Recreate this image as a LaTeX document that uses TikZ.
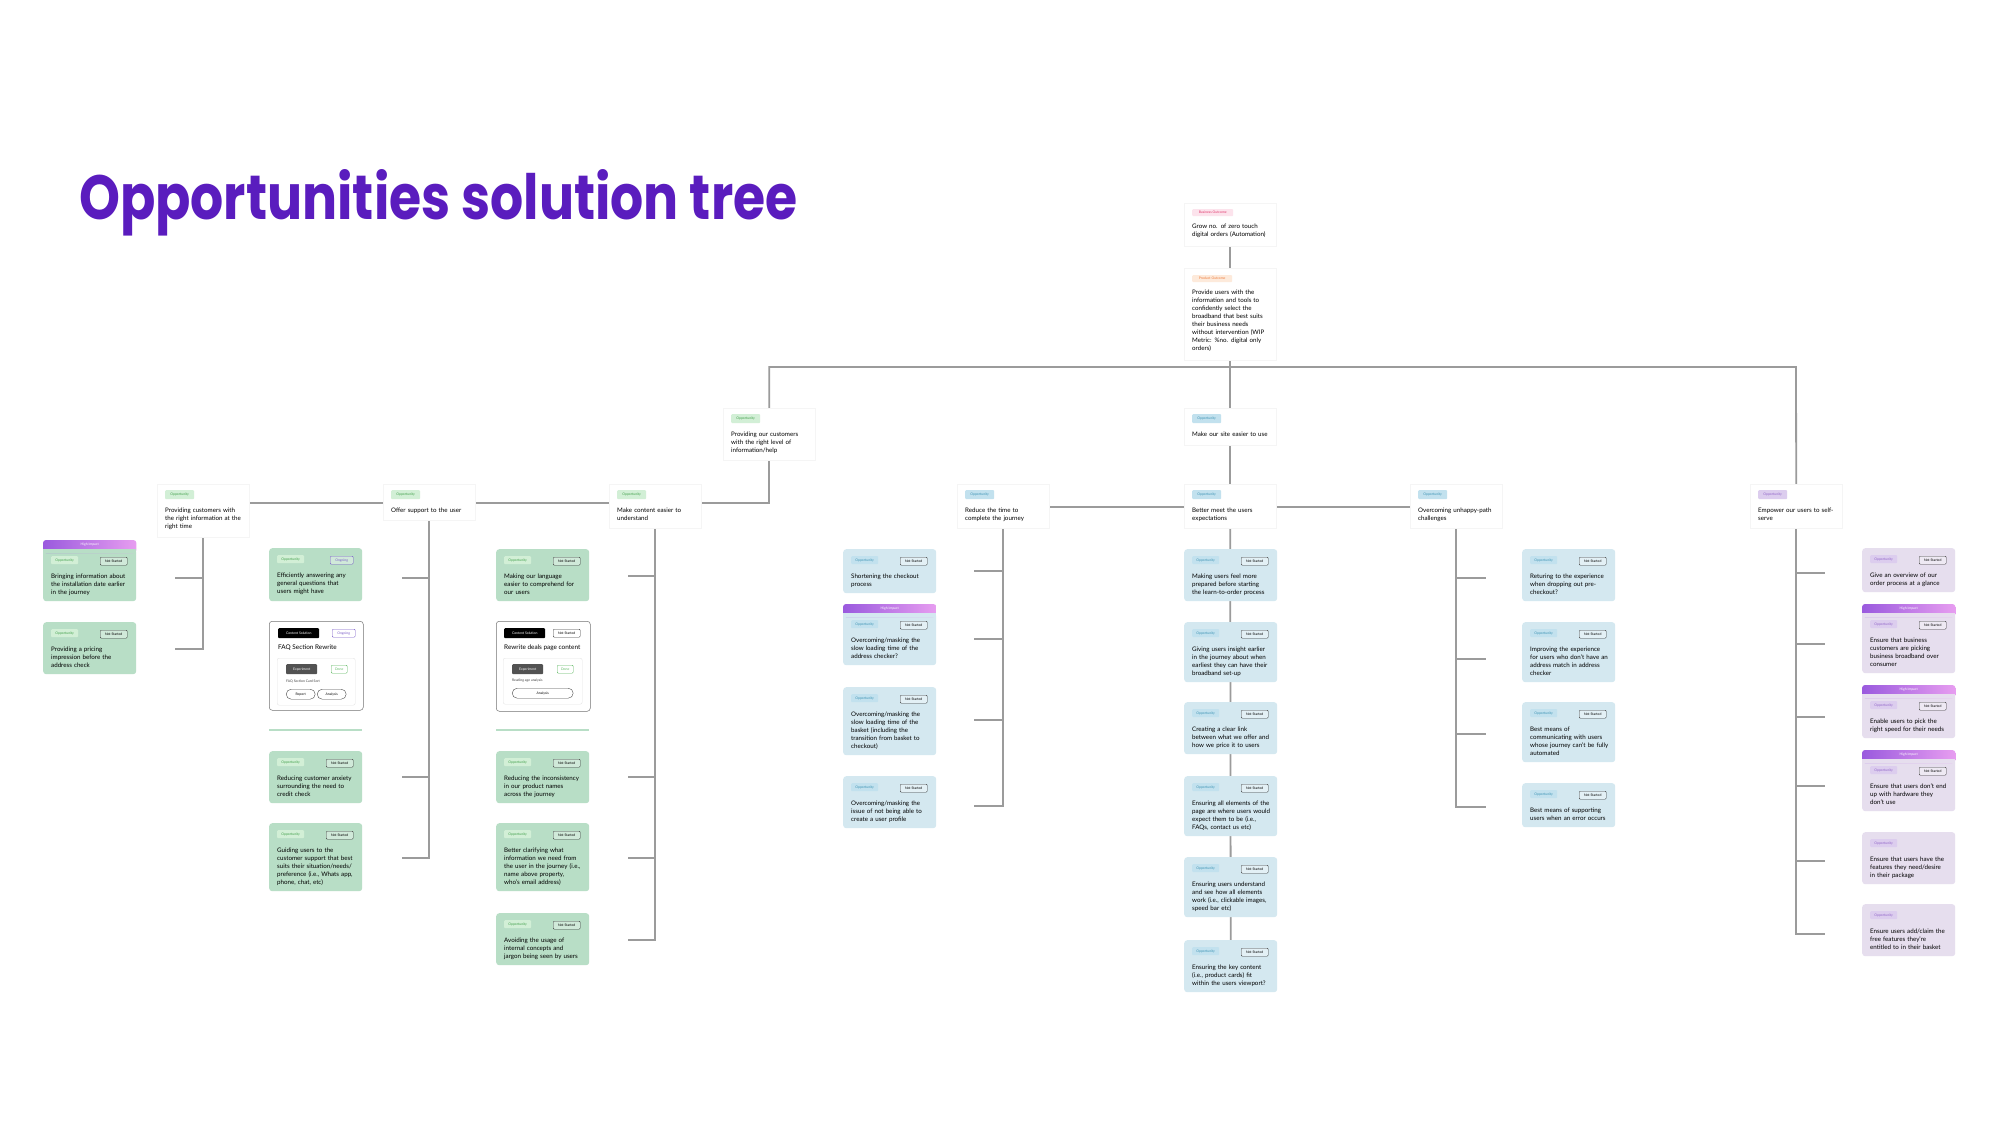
\documentclass[tikz,border=0pt]{standalone}
\usepackage{graphicx}
\usepackage{fontspec}
\setmainfont{Lato}
\newfontfamily\titlefont{Poppins}
\usetikzlibrary{calc}
\pgfdeclarelayer{bg}
\pgfsetlayers{bg,main}

\definecolor{titlec}{HTML}{5A1CBE}
\definecolor{lineg}{HTML}{9B9B9B}
\definecolor{gcard}{HTML}{B8DEC6}
\definecolor{gtag}{HTML}{D2EFD6}
\definecolor{gtagtext}{HTML}{3E9E48}
\definecolor{bcard}{HTML}{D4E8F0}
\definecolor{btag}{HTML}{C2E1EE}
\definecolor{btagtext}{HTML}{3A92B3}
\definecolor{pcard}{HTML}{E6DEEE}
\definecolor{ptag}{HTML}{DCCDEE}
\definecolor{ptagtext}{HTML}{9063C8}
\definecolor{ongc}{HTML}{7A5CC8}
\definecolor{donec}{HTML}{5BB85F}
\definecolor{hiL}{HTML}{9A5ADE}
\definecolor{hiR}{HTML}{E79DF0}
\definecolor{bustag}{HTML}{FCE3EC}
\definecolor{bustext}{HTML}{E0356A}
\definecolor{prodtag}{HTML}{FDEADB}
\definecolor{prodtext}{HTML}{EE7A3A}

\newcommand\bodyfont{\fontsize{6.2}{8}\selectfont}
\newcommand\tinyfont{\fontsize{3.4}{4}\selectfont}
\newcommand\solfont{\fontsize{6.4}{8}\selectfont}
\def\txtnst{Not Started}
\def\txtongo{Ongoing}

\tikzset{
 conn/.style={draw=lineg, line width=1.8pt},
 sepline/.style={draw=gcard, line width=1.6pt},
 cardbox/.style={anchor=north west, minimum width=93pt, rounded corners=3pt, inner sep=0pt, draw=none},
 hdrbox/.style={anchor=north west, minimum width=92pt, inner sep=0pt, fill=white, draw=black!4, line width=0.4pt},
 tagbox/.style={anchor=north west, inner sep=0pt, minimum height=8pt, rounded corners=1pt, font=\tinyfont},
 opptag/.style={fill=#1tag, text=#1tagtext, minimum width=27pt},
 nst/.style={tagbox, anchor=north east, minimum width=27pt, draw=black!75, line width=0.4pt, fill=white, fill opacity=0.35, text opacity=1},
 ongo/.style={tagbox, anchor=north east, minimum width=23pt, draw=ongc, text=ongc, line width=0.4pt, fill=white, fill opacity=0.35, text opacity=1},
 body/.style={anchor=north west, inner sep=0pt, align=left, font=\bodyfont, text width=92pt},
 solbox/.style={anchor=north west, minimum width=94pt, rounded corners=3pt, draw=black!55, line width=0.5pt, fill=white, inner sep=0pt},
 innerbox/.style={anchor=north west, minimum width=78pt, minimum height=47pt, draw=black!10, rounded corners=2pt, inner sep=0pt, line width=0.4pt},
 pill/.style={anchor=north west, minimum height=10pt, rounded corners=5pt, draw=black!70, line width=0.4pt, inner sep=0pt, font=\tinyfont},
 soltag/.style={tagbox, fill=black, text=white, minimum width=41pt, minimum height=10pt},
 exptag/.style={tagbox, fill=black!68, text=white, minimum width=31pt, minimum height=10pt},
 donetag/.style={tagbox, draw=donec, text=donec, minimum width=16pt, line width=0.4pt},
}

% name, x, y, height, scheme, status, text
\newcommand\oppcard[7]{%
 \node[cardbox, fill=#5card, minimum height=#4pt] (#1) at (#2,#3) {};
 \node[tagbox, opptag=#5] (#1-o) at ([xshift=8pt,yshift=-7pt]#1.north west) {Opportunity};
 \if\relax\detokenize{#6}\relax\else\node[#6] (#1-s) at ([xshift=-9pt,yshift=-8pt]#1.north east) {\csname txt#6\endcsname};\fi
 \node[body] (#1-x) at ([xshift=8pt,yshift=-23.4pt]#1.north west) {\strut #7};
}
% high impact bar on card #1 with scheme #2
\newcommand\hibar[2]{%
 \shade[left color=hiL, right color=hiR, rounded corners=3pt] ([yshift=9pt]#1.north west) rectangle ([yshift=-4pt]#1.north east);
 \fill[#2card] (#1.north west) rectangle ([yshift=-4pt]#1.north east);
 \node[font=\tinyfont, text=white, inner sep=0pt] (#1-hi) at ([yshift=4.5pt]#1.north) {High Impact};
}
% header card: name, x, y, height, scheme, text
\newcommand\hcard[6]{%
 \node[hdrbox, minimum height=#4pt] (#1) at (#2,#3) {};
 \node[tagbox, opptag=#5, minimum width=29pt, minimum height=9pt] (#1-o) at ([xshift=8pt,yshift=-6pt]#1.north west) {Opportunity};
 \node[body] (#1-x) at ([xshift=8pt,yshift=-22.4pt]#1.north west) {\strut #6};
}

\begin{document}
\begin{tikzpicture}[x=1pt,y=-1pt]
\useasboundingbox (0,0) rectangle (2000,1125);
\begin{pgfonlayer}{bg}
\fill[white] (0,0) rectangle (2000,1125);
\end{pgfonlayer}

% title
\node[anchor=base west, inner sep=0pt, text=titlec] (title) at (79,219)
 {\resizebox{718pt}{50pt}{\titlefont\bfseries Opportunities solution tree}};

% outcomes
\node[hdrbox, minimum height=43pt] (bus) at (1184,203) {};
\node[tagbox, fill=bustag, text=bustext, minimum width=41pt, minimum height=7pt] (bus-t) at (1192,209) {Business Outcome};
\node[body] (bus-x) at (1192,222.4) {\strut Grow no. of zero touch\\digital orders (Automation)};

\node[hdrbox, minimum height=92pt] (prod) at (1184,268) {};
\node[tagbox, fill=prodtag, text=prodtext, minimum width=40pt, minimum height=7pt] (prod-t) at (1192,275) {Product Outcome};
\node[body] (prod-x) at (1192,288.4) {\strut Provide users with the\\information and tools to\\confidently select the\\broadband that best suits\\their business needs\\without intervention (WIP\\Metric: \%no. digital only\\orders)};

% level-1 opportunities
\hcard{Hlevel}{723}{408}{52}{g}{Providing our customers\\with the right level of\\information/help}
\hcard{Hsite}{1184}{408}{37}{b}{Make our site easier to use}
\hcard{Hrt}{157}{484}{53}{g}{Providing customers with\\the right information at the\\right time}
\hcard{Hoff}{383}{484}{36}{g}{Offer support to the user}
\hcard{Hcon}{609}{484}{44}{g}{Make content easier to\\understand}
\hcard{Hred}{957}{484}{44}{b}{Reduce the time to\\complete the journey}
\hcard{Hmeet}{1184}{484}{44}{b}{Better meet the users\\expectations}
\hcard{Hunh}{1410}{484}{44}{b}{Overcoming unhappy-path\\challenges}
\hcard{Hemp}{1750}{484}{44}{p}{Empower our users to self-\\serve}

% column: right information at the right time
\oppcard{L1}{43}{549}{52}{g}{nst}{Bringing information about\\the installation date earlier\\in the journey}
\hibar{L1}{g}
\oppcard{L2}{43}{622}{52}{g}{nst}{Providing a pricing\\impression before the\\address check}

% column: offer support
\oppcard{O1}{269}{548}{53}{g}{ongo}{Efficiently answering any\\general questions that\\users might have}
\node[solbox, minimum height=89pt] (Osol) at (269,621) {};
\node[soltag] (Osol-c) at (278,628) {Content Solution};
\node[ongo, anchor=north west] (Osol-s) at (332,629) {Ongoing};
\node[anchor=west, inner sep=0pt, font=\solfont] (Osol-t) at (278,648) {FAQ Section Rewrite};
\node[innerbox] (Osol-i) at (277,658) {};
\node[exptag] (Osol-e) at (286,664) {Experiment};
\node[donetag] (Osol-d) at (331,665) {Done};
\node[anchor=west, inner sep=0pt, font=\tinyfont, text=black!75] (Osol-n) at (286,681) {FAQ Section Card Sort};
\node[pill, minimum width=29pt] (Osol-p1) at (286,689) {Report};
\node[pill, minimum width=29pt] (Osol-p2) at (317,689) {Analysis};
\coordinate (sepOa) at (269,730);
\coordinate (sepOb) at (362,730);
\oppcard{O2}{269}{751}{52}{g}{nst}{Reducing customer anxiety\\surrounding the need to\\credit check}
\oppcard{O3}{269}{823}{68}{g}{nst}{Guiding users to the\\customer support that best\\suits their situation/needs/\\preference (i.e., Whats app,\\phone, chat, etc)}

% column: make content easier
\oppcard{C1}{496}{549}{52}{g}{nst}{Making our language\\easier to comprehend for\\our users}
\node[solbox, minimum height=90pt] (Csol) at (496,621) {};
\node[soltag] (Csol-c) at (504,628) {Content Solution};
\node[nst, anchor=north west] (Csol-s) at (553,629) {Not Started};
\node[anchor=west, inner sep=0pt, font=\solfont] (Csol-t) at (504,648) {Rewrite deals page content};
\node[innerbox, minimum width=79pt, minimum height=46pt] (Csol-i) at (503,658) {};
\node[exptag] (Csol-e) at (512,664) {Experiment};
\node[donetag] (Csol-d) at (557,665) {Done};
\node[anchor=west, inner sep=0pt, font=\tinyfont, text=black!75] (Csol-n) at (512,681) {Reading age analysis};
\node[pill, minimum width=61pt] (Csol-p1) at (512,688) {Analysis};
\coordinate (sepCa) at (496,730);
\coordinate (sepCb) at (589,730);
\oppcard{C2}{496}{751}{52}{g}{nst}{Reducing the inconsistency\\in our product names\\across the journey}
\oppcard{C3}{496}{823}{68}{g}{nst}{Better clarifying what\\information we need from\\the user in the journey (i.e.,\\name above property,\\who's email address)}
\oppcard{C4}{496}{913}{52}{g}{nst}{Avoiding the usage of\\internal concepts and\\jargon being seen by users}

% column: reduce the time
\oppcard{R1}{843}{549}{44}{b}{nst}{Shortening the checkout\\process}
\oppcard{R2}{843}{613}{52}{b}{nst}{Overcoming/masking the\\slow loading time of the\\address checker?}
\hibar{R2}{b}
\oppcard{R3}{843}{687}{68}{b}{nst}{Overcoming/masking the\\slow loading time of the\\basket (including the\\transition from basket to\\checkout)}
\oppcard{R4}{843}{776}{52}{b}{nst}{Overcoming/masking the\\issue of not being able to\\create a user profile}

% column: better meet expectations
\oppcard{M1}{1184}{549}{52}{b}{nst}{Making users feel more\\prepared before starting\\the learn-to-order process}
\oppcard{M2}{1184}{622}{60}{b}{nst}{Giving users insight earlier\\in the journey about when\\earliest they can have their\\broadband set-up}
\oppcard{M3}{1184}{702}{52}{b}{nst}{Creating a clear link\\between what we offer and\\how we price it to users}
\oppcard{M4}{1184}{776}{60}{b}{nst}{Ensuring all elements of the\\page are where users would\\expect them to be (i.e.,\\FAQs, contact us etc)}
\oppcard{M5}{1184}{857}{60}{b}{nst}{Ensuring users understand\\and see how all elements\\work (i.e., clickable images,\\speed bar etc)}
\oppcard{M6}{1184}{940}{52}{b}{nst}{Ensuring the key content\\(i.e., product cards) fit\\within the users viewport?}

% column: unhappy path
\oppcard{U1}{1522}{549}{52}{b}{nst}{Returing to the experience\\when dropping out pre-\\checkout?}
\oppcard{U2}{1522}{622}{60}{b}{nst}{Improving the experience\\for users who don't have an\\address match in address\\checker}
\oppcard{U3}{1522}{702}{60}{b}{nst}{Best means of\\communicating with users\\whose journey can't be fully\\automated}
\oppcard{U4}{1522}{783}{44}{b}{nst}{Best means of supporting\\users when an error occurs}

% column: empower
\oppcard{E1}{1862}{548}{44}{p}{nst}{Give an overview of our\\order process at a glance}
\oppcard{E2}{1862}{613}{60}{p}{nst}{Ensure that business\\customers are picking\\business broadband over\\consumer}
\hibar{E2}{p}
\oppcard{E3}{1862}{694}{44}{p}{nst}{Enable users to pick the\\right speed for their needs}
\hibar{E3}{p}
\oppcard{E4}{1862}{759}{52}{p}{nst}{Ensure that users don't end\\up with hardware they\\don't use}
\hibar{E4}{p}
\oppcard{E5}{1862}{832}{52}{p}{}{Ensure that users have the\\features they need/desire\\in their package}
\oppcard{E6}{1862}{904}{52}{p}{}{Ensure users add/claim the\\free features they're\\entitled to in their basket}

% stub end coordinates
\coordinate (busL) at (0,503);
\coordinate (busR) at (0,507);
\coordinate (topR) at (1796,367);
\coordinate (sL1) at (175,578);
\coordinate (sL2) at (175,649);
\coordinate (sO1) at (402,578);
\coordinate (sO2) at (402,777);
\coordinate (sO3) at (402,858);
\coordinate (sC1) at (628,576);
\coordinate (sC2) at (628,777);
\coordinate (sC3) at (628,858);
\coordinate (sC4) at (628,940);
\coordinate (sR1) at (974,571);
\coordinate (sR2) at (974,639);
\coordinate (sR3) at (974,720);
\coordinate (sR4) at (974,806);
\coordinate (sU1) at (1486,578);
\coordinate (sU2) at (1486,659);
\coordinate (sU3) at (1486,734);
\coordinate (sU4) at (1486,807);
\coordinate (sE1) at (1825,573);
\coordinate (sE2) at (1825,644);
\coordinate (sE3) at (1825,717);
\coordinate (sE4) at (1825,786);
\coordinate (sE5) at (1825,861);
\coordinate (sE6) at (1825,934);

\begin{pgfonlayer}{bg}
\draw[conn] (bus.south) -- (prod.north);
\draw[conn] (prod.south) -- (Hsite.north);
\draw[conn] (Hlevel.north) |- (topR) -- (Hemp.north);
\draw[conn] (Hlevel.south) |- (Hrt.center |- busL);
\draw[conn] (Hsite.south) -- (Hmeet.north);
\draw[conn] (Hred.center |- busR) -- (Hunh.center |- busR);
% trunks
\draw[conn] (Hrt.south) -- (Hrt.south |- sL2) -- (sL2);
\draw[conn] (Hrt.south |- sL1) -- (sL1);
\draw[conn] (Hoff.south) -- (Hoff.south |- sO3) -- (sO3);
\draw[conn] (Hoff.south |- sO1) -- (sO1);
\draw[conn] (Hoff.south |- sO2) -- (sO2);
\draw[conn] (Hcon.south) -- (Hcon.south |- sC4) -- (sC4);
\draw[conn] (Hcon.south |- sC1) -- (sC1);
\draw[conn] (Hcon.south |- sC2) -- (sC2);
\draw[conn] (Hcon.south |- sC3) -- (sC3);
\draw[conn] (Hred.south) -- (Hred.south |- sR4) -- (sR4);
\draw[conn] (Hred.south |- sR1) -- (sR1);
\draw[conn] (Hred.south |- sR2) -- (sR2);
\draw[conn] (Hred.south |- sR3) -- (sR3);
\draw[conn] (Hmeet.south) -- (M6.north);
\draw[conn] (Hunh.south) -- (Hunh.south |- sU4) -- (sU4);
\draw[conn] (Hunh.south |- sU1) -- (sU1);
\draw[conn] (Hunh.south |- sU2) -- (sU2);
\draw[conn] (Hunh.south |- sU3) -- (sU3);
\draw[conn] (Hemp.south) -- (Hemp.south |- sE6) -- (sE6);
\draw[conn] (Hemp.south |- sE1) -- (sE1);
\draw[conn] (Hemp.south |- sE2) -- (sE2);
\draw[conn] (Hemp.south |- sE3) -- (sE3);
\draw[conn] (Hemp.south |- sE4) -- (sE4);
\draw[conn] (Hemp.south |- sE5) -- (sE5);
\end{pgfonlayer}
\draw[sepline] (sepOa) -- (sepOb);
\draw[sepline] (sepCa) -- (sepCb);
\end{tikzpicture}
\end{document}
